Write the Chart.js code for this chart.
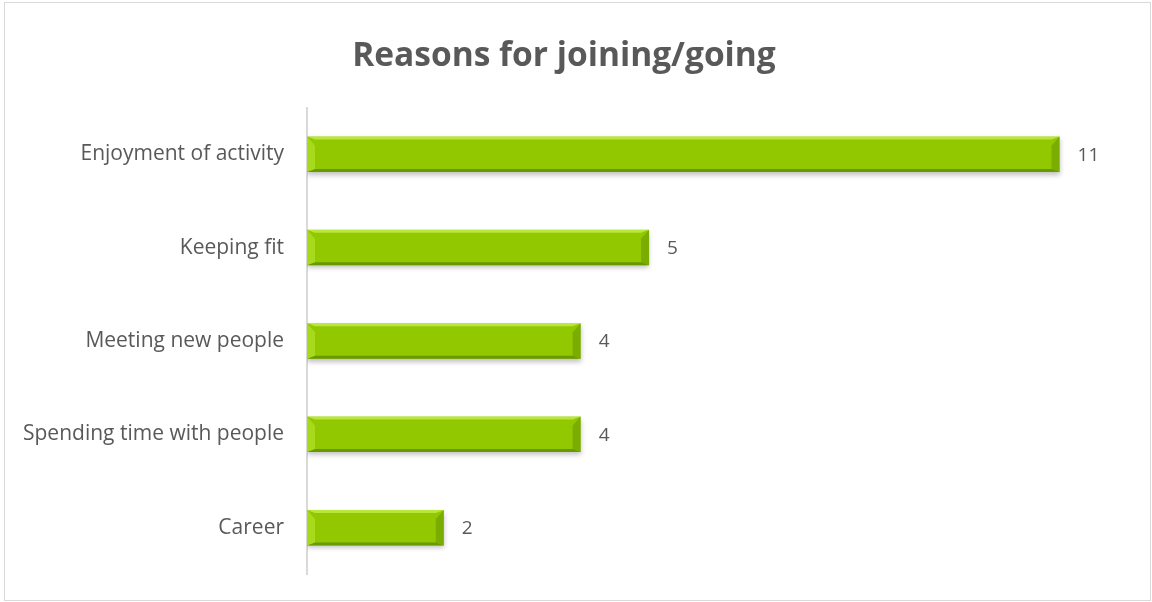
<!DOCTYPE html>
<html>
<head>
<meta charset="utf-8">
<script src="https://cdn.jsdelivr.net/npm/chart.js@4"></script>
<style>
    html, body { margin: 0; padding: 0; background: #fff; }
    #wrap { position: relative; width: 1152px; height: 602px; }
</style>
</head>
<body>
<div id="wrap"><canvas id="reasonsChart" width="1152" height="602"></canvas></div>
<script>
const reasons = ['Enjoyment of activity', 'Keeping fit', 'Meeting new people', 'Spending time with people', 'Career'];
const counts = [11, 5, 4, 4, 2];
const axisMax = 12;

const textColor = '#595959';
const fontFamily = '"Open Sans", "Liberation Sans", sans-serif';

// soft drop shadow under the bars
const barShadow = {
    id: 'barShadow',
    beforeDatasetDraw(chart) {
        const c = chart.ctx;
        c.save();
        c.shadowColor = 'rgba(0,0,0,0.25)';
        c.shadowBlur = 5;
        c.shadowOffsetY = 3;
    },
    afterDatasetDraw(chart) {
        chart.ctx.restore();
    }
};

// bevelled ends, edge highlights and value labels
const barDetail = {
    id: 'barDetail',
    afterDatasetsDraw(chart) {
        const c = chart.ctx;
        const meta = chart.getDatasetMeta(0);
        c.save();
        meta.data.forEach((bar, i) => {
            const p = bar.getProps(['x', 'y', 'base', 'height'], true);
            const top = p.y - p.height / 2;
            const bot = p.y + p.height / 2;
            const l = p.base, r = p.x;
            const e = 8;   // end bevel
            const s = 3;   // top/bottom edge

            // top highlight strip
            c.fillStyle = 'rgba(215,255,110,0.55)';
            c.beginPath();
            c.moveTo(l, top); c.lineTo(r, top); c.lineTo(r - e, top + s); c.lineTo(l + e, top + s);
            c.closePath(); c.fill();
            // bottom dark strip
            c.fillStyle = 'rgba(80,120,0,0.6)';
            c.beginPath();
            c.moveTo(l, bot); c.lineTo(r, bot); c.lineTo(r - e, bot - s); c.lineTo(l + e, bot - s);
            c.closePath(); c.fill();
            // left bevel (lighter) and right bevel (darker)
            c.fillStyle = 'rgba(190,240,60,0.45)';
            c.beginPath();
            c.moveTo(l, top); c.lineTo(l + e, top + s + 6); c.lineTo(l + e, bot - s); c.lineTo(l, bot);
            c.closePath(); c.fill();
            c.fillStyle = 'rgba(90,130,0,0.40)';
            c.beginPath();
            c.moveTo(r, top); c.lineTo(r - e, top + s + 6); c.lineTo(r - e, bot - s); c.lineTo(r, bot);
            c.closePath(); c.fill();

            // value label
            c.fillStyle = textColor;
            c.font = '19px ' + fontFamily;
            c.textAlign = 'left';
            c.textBaseline = 'middle';
            c.fillText(String(counts[i]), r + 18, p.y + 1);
        });
        c.restore();
    }
};

// white background and thin outer frame
const frame = {
    id: 'frame',
    beforeDraw(chart) {
        const c = chart.ctx;
        c.save();
        c.fillStyle = '#fff';
        c.fillRect(0, 0, chart.width, chart.height);
        c.strokeStyle = '#d9d9d9';
        c.lineWidth = 1;
        c.strokeRect(4.5, 2.5, chart.width - 6, chart.height - 4);
        c.restore();
    }
};

const ctx = document.getElementById('reasonsChart').getContext('2d');

new Chart(ctx, {
    type: 'bar',
    data: {
        labels: reasons,
        datasets: [{
            data: counts,
            backgroundColor: (context) => {
                const bar = context.element;
                if (!bar || bar.height === undefined) return '#92c800';
                const top = bar.y - bar.height / 2;
                const g = context.chart.ctx.createLinearGradient(0, top, 0, top + bar.height);
                g.addColorStop(0, '#9ad400');
                g.addColorStop(0.5, '#93c900');
                g.addColorStop(1, '#8bbf00');
                return g;
            },
            borderWidth: 0,
            categoryPercentage: 1,
            barPercentage: 0.38
        }]
    },
    options: {
        indexAxis: 'y',
        responsive: false,
        animation: false,
        layout: { padding: { left: 0, right: 24, top: 0, bottom: 24.5 } },
        plugins: {
            legend: { display: false },
            tooltip: { enabled: false },
            title: {
                display: true,
                text: 'Reasons for joining/going',
                color: textColor,
                font: { family: fontFamily, size: 33.5, weight: 'bold', lineHeight: 1.2 },
                padding: { top: 36, bottom: 31.3 }
            }
        },
        scales: {
            x: {
                display: false,
                min: 0,
                max: axisMax
            },
            y: {
                afterFit(scale) { scale.width = 307; },
                grid: { display: false },
                border: { display: true, color: '#d9d9d9', width: 2 },
                ticks: {
                    color: textColor,
                    padding: 15,
                    font: { family: fontFamily, size: 21 }
                }
            }
        }
    },
    plugins: [frame, barShadow, barDetail]
});
</script>
</body>
</html>
